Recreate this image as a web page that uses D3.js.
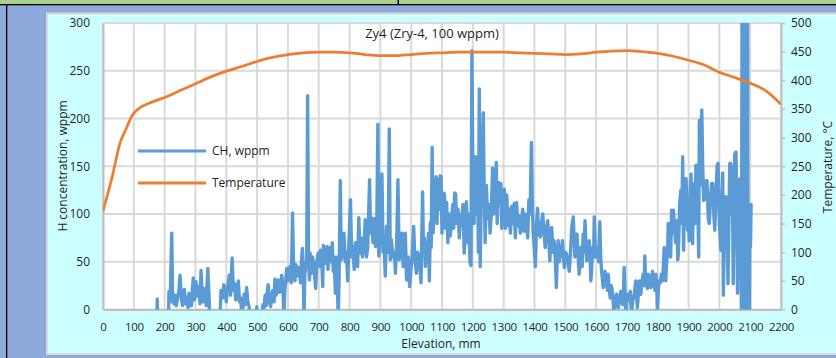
<!DOCTYPE html>
<html><head><meta charset="utf-8">
<script src="https://cdn.jsdelivr.net/npm/d3@7"></script>
<style>
body{margin:0;background:#8eaadb;overflow:hidden}
svg{display:block}
text{font-family:"Open Sans",sans-serif;fill:#1f1f1f}
</style>
</head><body>
<svg id="c" width="836" height="358"></svg>
<script>
// ---- data ----
const titleText = "Zy4 (Zry-4, 100 wppm)";
const xTitle = "Elevation, mm";
const yLeftTitle = "H concentration, wppm";
const yRightTitle = "Temperature, °C";
const seriesNames = ["CH, wppm", "Temperature"];
const xTicks = d3.range(0, 2201, 100);
const hTicks = d3.range(0, 301, 50);
const tTicks = d3.range(0, 501, 50);

const tempElev = [0,30,55,75,93,110,150,200,250,300,350,400,450,500,550,600,650,700,750,800,850,900,950,1000,1050,1100,1150,1200,1250,1300,1350,1400,1450,1500,1550,1600,1650,1700,1750,1800,1850,1900,1950,2000,2050,2100,2150,2200];
const tempValues = [172,232,290,315,337,348,360,370,382,394,406,416,424,433,440,445,448,449,449,448,445,443,443,445,447,448,449,449,449,449,448,447,446,445,446,449,451,452,450,447,442,435,427,414,405,395,382,358];

// [elevation mm, CH wppm]  (values outside 0..300 are clipped by the plot area)
const chPoints = [
[160,-20],[174,-20],[176,11],[178,-20],[212,-20],[214,19],[218,8],[223,80],[226,10],[230,6],[234,15],[238,4],[242,12],[246,20],[250,36],[254,12],[258,4],[262,18],[264,21],[268,6],[272,12],[276,2],[279,17],[283,8],[287,4],[290,20],[293,33],[297,10],[302,29],[306,14],[311,24],[315,6],[318,41],[322,14],[325,8],[330,22],[335,4],[340,43],[344,15],[347,-20],
[378,-20],[383,20],[388,12],[392,26],[396,18],[400,8],[404,22],[410,36],[414,15],[419,54],[423,20],[427,27],[431,10],[435,18],[439,30],[443,8],[447,12],[450,-5],[454,3],[458,16],[462,5],[466,23],[470,8],[474,3],[477,-10],[490,-20],[497,-10],[499,3],[502,-15],[515,-10],[519,5],[523,2],[526,15],[530,4],[533,18],[536,26],[540,10],[544,3],[547,12],[551,20],[555,8],[558,32],[562,15],[566,22],[569,31],[573,18],[577,25],[580,36],[584,20],[587,-10],
[590,20],[593,31],[596,43],[600,30],[604,38],[607,45],[611,28],[615,101],[619,36],[623,30],[626,47],[630,35],[634,44],[637,41],[641,28],[644,50],[647,64],[650,40],[652,-10],[655,38],[658,45],[661,52],[664,224],[667,50],[670,31],[672,59],[676,38],[680,55],[683,49],[687,35],[690,22],[694,50],[698,59],[702,45],[706,62],[710,50],[713,24],[715,67],[719,48],[723,60],[727,66],[730,42],[733,58],[737,65],[741,50],[744,70],[747,40],[750,55],[754,17],[757,55],[760,40],[763,-10],[766,30],[770,135],[773,52],[777,62],[782,80],[786,50],[790,60],[794,30],[798,70],
[803,115],[807,55],[811,66],[815,42],[819,70],[823,60],[826,45],[830,96],[834,59],[838,75],[842,55],[847,70],[851,94],[855,55],[859,65],[865,136],[868,80],[872,96],[876,70],[880,95],[884,66],[888,80],[892,194],[895,56],[899,75],[905,142],[909,60],[912,70],[916,35],[920,87],[925,60],[929,189],[932,52],[936,73],[940,55],[945,60],[949,38],[953,70],[957,136],[961,52],[965,68],[970,80],[974,45],[978,65],[981,80],[985,31],[990,55],[995,24],[1000,45],[1004,60],[1008,87],[1012,52],[1017,38],[1021,60],[1026,55],[1032,28],[1037,123],
[1040,60],[1043,75],[1046,45],[1050,70],[1053,51],[1056,80],[1059,30],[1062,91],[1065,65],[1068,170],[1071,80],[1074,100],[1078,128],[1081,139],[1084,90],[1087,136],[1090,105],[1094,140],[1097,139],[1100,80],[1104,122],[1108,121],[1111,85],[1115,112],[1119,70],[1123,100],[1127,77],[1131,95],[1135,110],[1138,85],[1141,122],[1144,121],[1148,90],[1152,105],[1156,75],[1160,100],[1164,88],[1168,110],[1172,59],[1176,80],[1179,113],[1183,70],[1187,100],[1191,49],[1194,46],[1197,271],[1200,150],[1204,90],[1207,160],[1211,100],[1215,160],[1218,60],[1221,231],[1224,45],[1228,140],[1231,160],[1234,206],[1237,120],[1240,70],[1244,130],[1248,95],[1252,110],[1256,80],[1260,100],[1264,148],[1268,100],[1272,125],[1276,154],[1279,90],[1283,133],[1287,110],[1291,132],[1294,85],[1298,118],
[1302,126],[1306,85],[1310,120],[1314,88],[1318,105],[1322,80],[1326,108],[1330,90],[1334,111],[1338,75],[1342,112],[1346,88],[1350,98],[1354,80],[1358,95],[1362,105],[1366,82],[1370,100],[1374,90],[1378,75],[1382,115],[1386,100],[1390,175],[1393,110],[1396,80],[1400,60],[1403,45],[1407,90],
[1410,106],[1414,80],[1419,76],[1423,90],[1427,100],[1431,80],[1435,65],[1439,85],[1443,93],[1447,70],[1450,51],[1453,75],[1456,86],[1460,60],[1464,72],[1468,50],[1471,23],[1474,55],[1477,72],[1481,50],[1484,58],[1488,65],[1491,72],[1494,55],[1497,44],[1501,60],[1504,58],[1508,50],[1513,40],[1517,60],[1521,86],[1526,97],[1529,70],[1531,55],[1535,65],[1538,79],[1542,55],[1545,37],[1548,50],[1551,65],[1555,45],[1558,79],[1561,60],[1564,93],[1567,70],[1570,51],[1574,60],[1578,72],[1581,50],[1583,30],[1586,45],[1589,65],[1592,55],[1594,97],[1597,70],[1599,55],[1602,60],[1605,65],[1608,50],[1612,92],
[1615,55],[1618,40],[1621,30],[1623,23],[1626,35],[1629,40],[1632,25],[1634,30],[1637,20],[1639,37],[1643,20],[1646,12],[1649,25],[1651,23],[1655,10],[1659,-10],[1662,10],[1666,16],[1669,5],[1672,2],[1676,12],[1680,19],[1683,8],[1686,5],[1689,20],[1691,44],[1694,15],[1697,-10],[1700,8],[1702,16],[1706,10],[1709,15],[1711,19],[1713,5],[1715,-10],[1718,8],[1721,12],[1724,16],[1727,25],[1729,30],[1732,10],[1734,2],[1737,15],[1740,30],[1743,20],[1745,16],[1749,30],[1753,37],[1756,25],[1758,56],[1761,25],[1764,30],[1767,22],[1769,37],[1773,28],[1776,35],[1778,23],[1781,30],[1783,40],[1786,25],[1788,30],[1791,20],[1794,37],[1797,25],[1799,-5],
[1802,20],[1805,30],[1808,28],[1812,37],[1816,30],[1821,65],[1824,35],[1826,30],[1829,50],[1832,58],[1834,90],[1837,76],[1840,62],[1842,55],[1845,104],[1848,80],[1851,104],[1855,86],[1858,70],[1862,93],[1865,52],[1867,58],[1871,110],[1875,125],[1878,90],[1881,160],[1884,62],[1886,107],[1889,137],[1892,137],[1895,100],[1897,83],[1899,114],[1902,72],[1905,120],[1908,142],[1911,100],[1913,69],[1916,120],[1919,132],[1921,90],[1924,151],[1927,151],[1930,110],[1933,55],[1935,198],[1938,130],[1940,181],[1943,209],[1946,150],[1949,114],[1953,116],[1956,135],[1960,135],[1964,95],[1967,90],[1972,120],[1975,132],[1978,132],[1982,100],[1985,83],[1990,130],[1993,151],[1996,153],[2000,90],[2005,62],[2008,110],[2011,143],[2013,15],[2016,90],[2018,118],[2021,118],[2025,80],[2028,27],[2032,120],[2034,153],[2037,153],[2040,100],[2042,149],[2045,27],[2048,120],[2050,163],[2054,165],[2057,80],[2059,17],[2062,120],[2064,135],[2067,137],[2070,60],
[2072,-20],[2073.5,330],[2075,-20],[2076.5,330],[2078,-20],[2079.5,330],[2081,-20],[2082.5,330],[2084,-20],[2085.5,330],[2087,-20],[2088.5,330],[2090,-20],[2091.5,330],[2093,-20],[2094,104],[2096,107],[2098,-20],[2099,90],[2101,66],[2103,110]
];

// ---- layout ----
const svg = d3.select("#c");
const W = 836, H = 358;
const P = {l:103, r:781, t:23, b:309.5};

const x = d3.scaleLinear().domain([0,2200]).range([P.l,P.r]);
const yL = d3.scaleLinear().domain([0,300]).range([P.b,P.t]);
const yR = d3.scaleLinear().domain([0,500]).range([P.b,P.t]);

// frame / backgrounds
svg.append("rect").attr("x",0).attr("y",0).attr("width",W).attr("height",H).attr("fill","#8eaadb");
svg.append("rect").attr("x",0).attr("y",0).attr("width",W).attr("height",4).attr("fill","#a9d18e");
svg.append("rect").attr("x",0).attr("y",4).attr("width",W).attr("height",1.3).attr("fill","#000");
svg.append("rect").attr("x",397.5).attr("y",0).attr("width",1.5).attr("height",4).attr("fill","#000");
svg.append("rect").attr("x",6).attr("y",4).attr("width",1.3).attr("height",H).attr("fill","#000");
svg.append("rect").attr("x",47).attr("y",13.5).attr("width",800).attr("height",340.5)
  .attr("fill","#ccffff").attr("stroke","#d9d9d9").attr("stroke-width",2);
svg.append("rect").attr("x",P.l).attr("y",P.t).attr("width",P.r-P.l).attr("height",P.b-P.t).attr("fill","#fff");

// gridlines
const grid = svg.append("g").attr("stroke","#d9d9d9").attr("stroke-width",2);
grid.selectAll("line.v").data(xTicks).join("line")
  .attr("x1",d=>x(d)).attr("x2",d=>x(d)).attr("y1",P.t).attr("y2",P.b);
grid.selectAll("line.h").data(hTicks).enter().append("line")
  .attr("x1",P.l).attr("x2",P.r).attr("y1",d=>yL(d)).attr("y2",d=>yL(d));

// axes
function styleAxis(g, fs, ls){
  g.selectAll("text").style("font-family","'Open Sans',sans-serif").style("font-size",fs)
    .style("letter-spacing",ls||"0px").attr("fill","#1f1f1f");
  g.select(".domain").attr("stroke","#bfbfbf").attr("stroke-width",2);
  g.selectAll(".tick line").attr("stroke","#bfbfbf").attr("stroke-width",1.5);
}
const axL = svg.append("g").attr("transform",`translate(${P.l},0)`)
  .call(d3.axisLeft(yL).tickValues(hTicks).tickSize(0).tickPadding(13).tickSizeOuter(0));
styleAxis(axL,"12px");
const axB = svg.append("g").attr("transform",`translate(0,${P.b})`)
  .call(d3.axisBottom(x).tickValues(xTicks).tickSize(0).tickPadding(13).tickSizeOuter(0).tickFormat(d3.format("d")));
styleAxis(axB,"11.5px","-0.3px");
const axR = svg.append("g").attr("transform",`translate(${P.r},0)`)
  .call(d3.axisRight(yR).tickValues(tTicks).tickSize(4).tickPadding(6).tickSizeOuter(0));
styleAxis(axR,"12px");

// clip
svg.append("clipPath").attr("id","plotclip").append("rect")
  .attr("x",P.l).attr("y",P.t).attr("width",P.r-P.l).attr("height",P.b-P.t);

// CH series
const lineCH = d3.line().x(d=>x(d[0])).y(d=>yL(d[1]));
svg.append("path").datum(chPoints).attr("clip-path","url(#plotclip)")
  .attr("d",lineCH).attr("fill","none").attr("stroke","#5b9bd5")
  .attr("stroke-width",3.4).attr("stroke-linejoin","round").attr("stroke-linecap","round");

// Temperature series
const tempData = tempElev.map((e,i)=>[e,tempValues[i]]);
const lineT = d3.line().x(d=>x(d[0])).y(d=>yR(d[1])).curve(d3.curveMonotoneX);
svg.append("path").datum(tempData).attr("clip-path","url(#plotclip)")
  .attr("d",lineT).attr("fill","none").attr("stroke","#ed7d31")
  .attr("stroke-width",2.75).attr("stroke-linejoin","round");

// title
svg.append("text").attr("x",432).attr("y",38).attr("text-anchor","middle")
  .style("font-size","13px").text(titleText);

// axis titles
svg.append("text").attr("x",441).attr("y",347.5).attr("text-anchor","middle")
  .style("font-size","12px").text(xTitle);
svg.append("text").attr("transform","translate(66.5,166) rotate(-90)").attr("text-anchor","middle")
  .style("font-size","12px").text(yLeftTitle);
svg.append("text").attr("transform","translate(831.5,167) rotate(-90)").attr("text-anchor","middle")
  .style("font-size","12px").text(yRightTitle);

// legend
const legColors = ["#5b9bd5","#ed7d31"];
const legY = [151,183];
const leg = svg.append("g");
seriesNames.forEach((n,i)=>{
  leg.append("line").attr("x1",138).attr("x2",206).attr("y1",legY[i]).attr("y2",legY[i])
    .attr("stroke",legColors[i]).attr("stroke-width",3);
  leg.append("text").attr("x",212).attr("y",legY[i]).attr("dy","0.35em")
    .style("font-size","12px").text(n);
});
</script>
</body></html>
